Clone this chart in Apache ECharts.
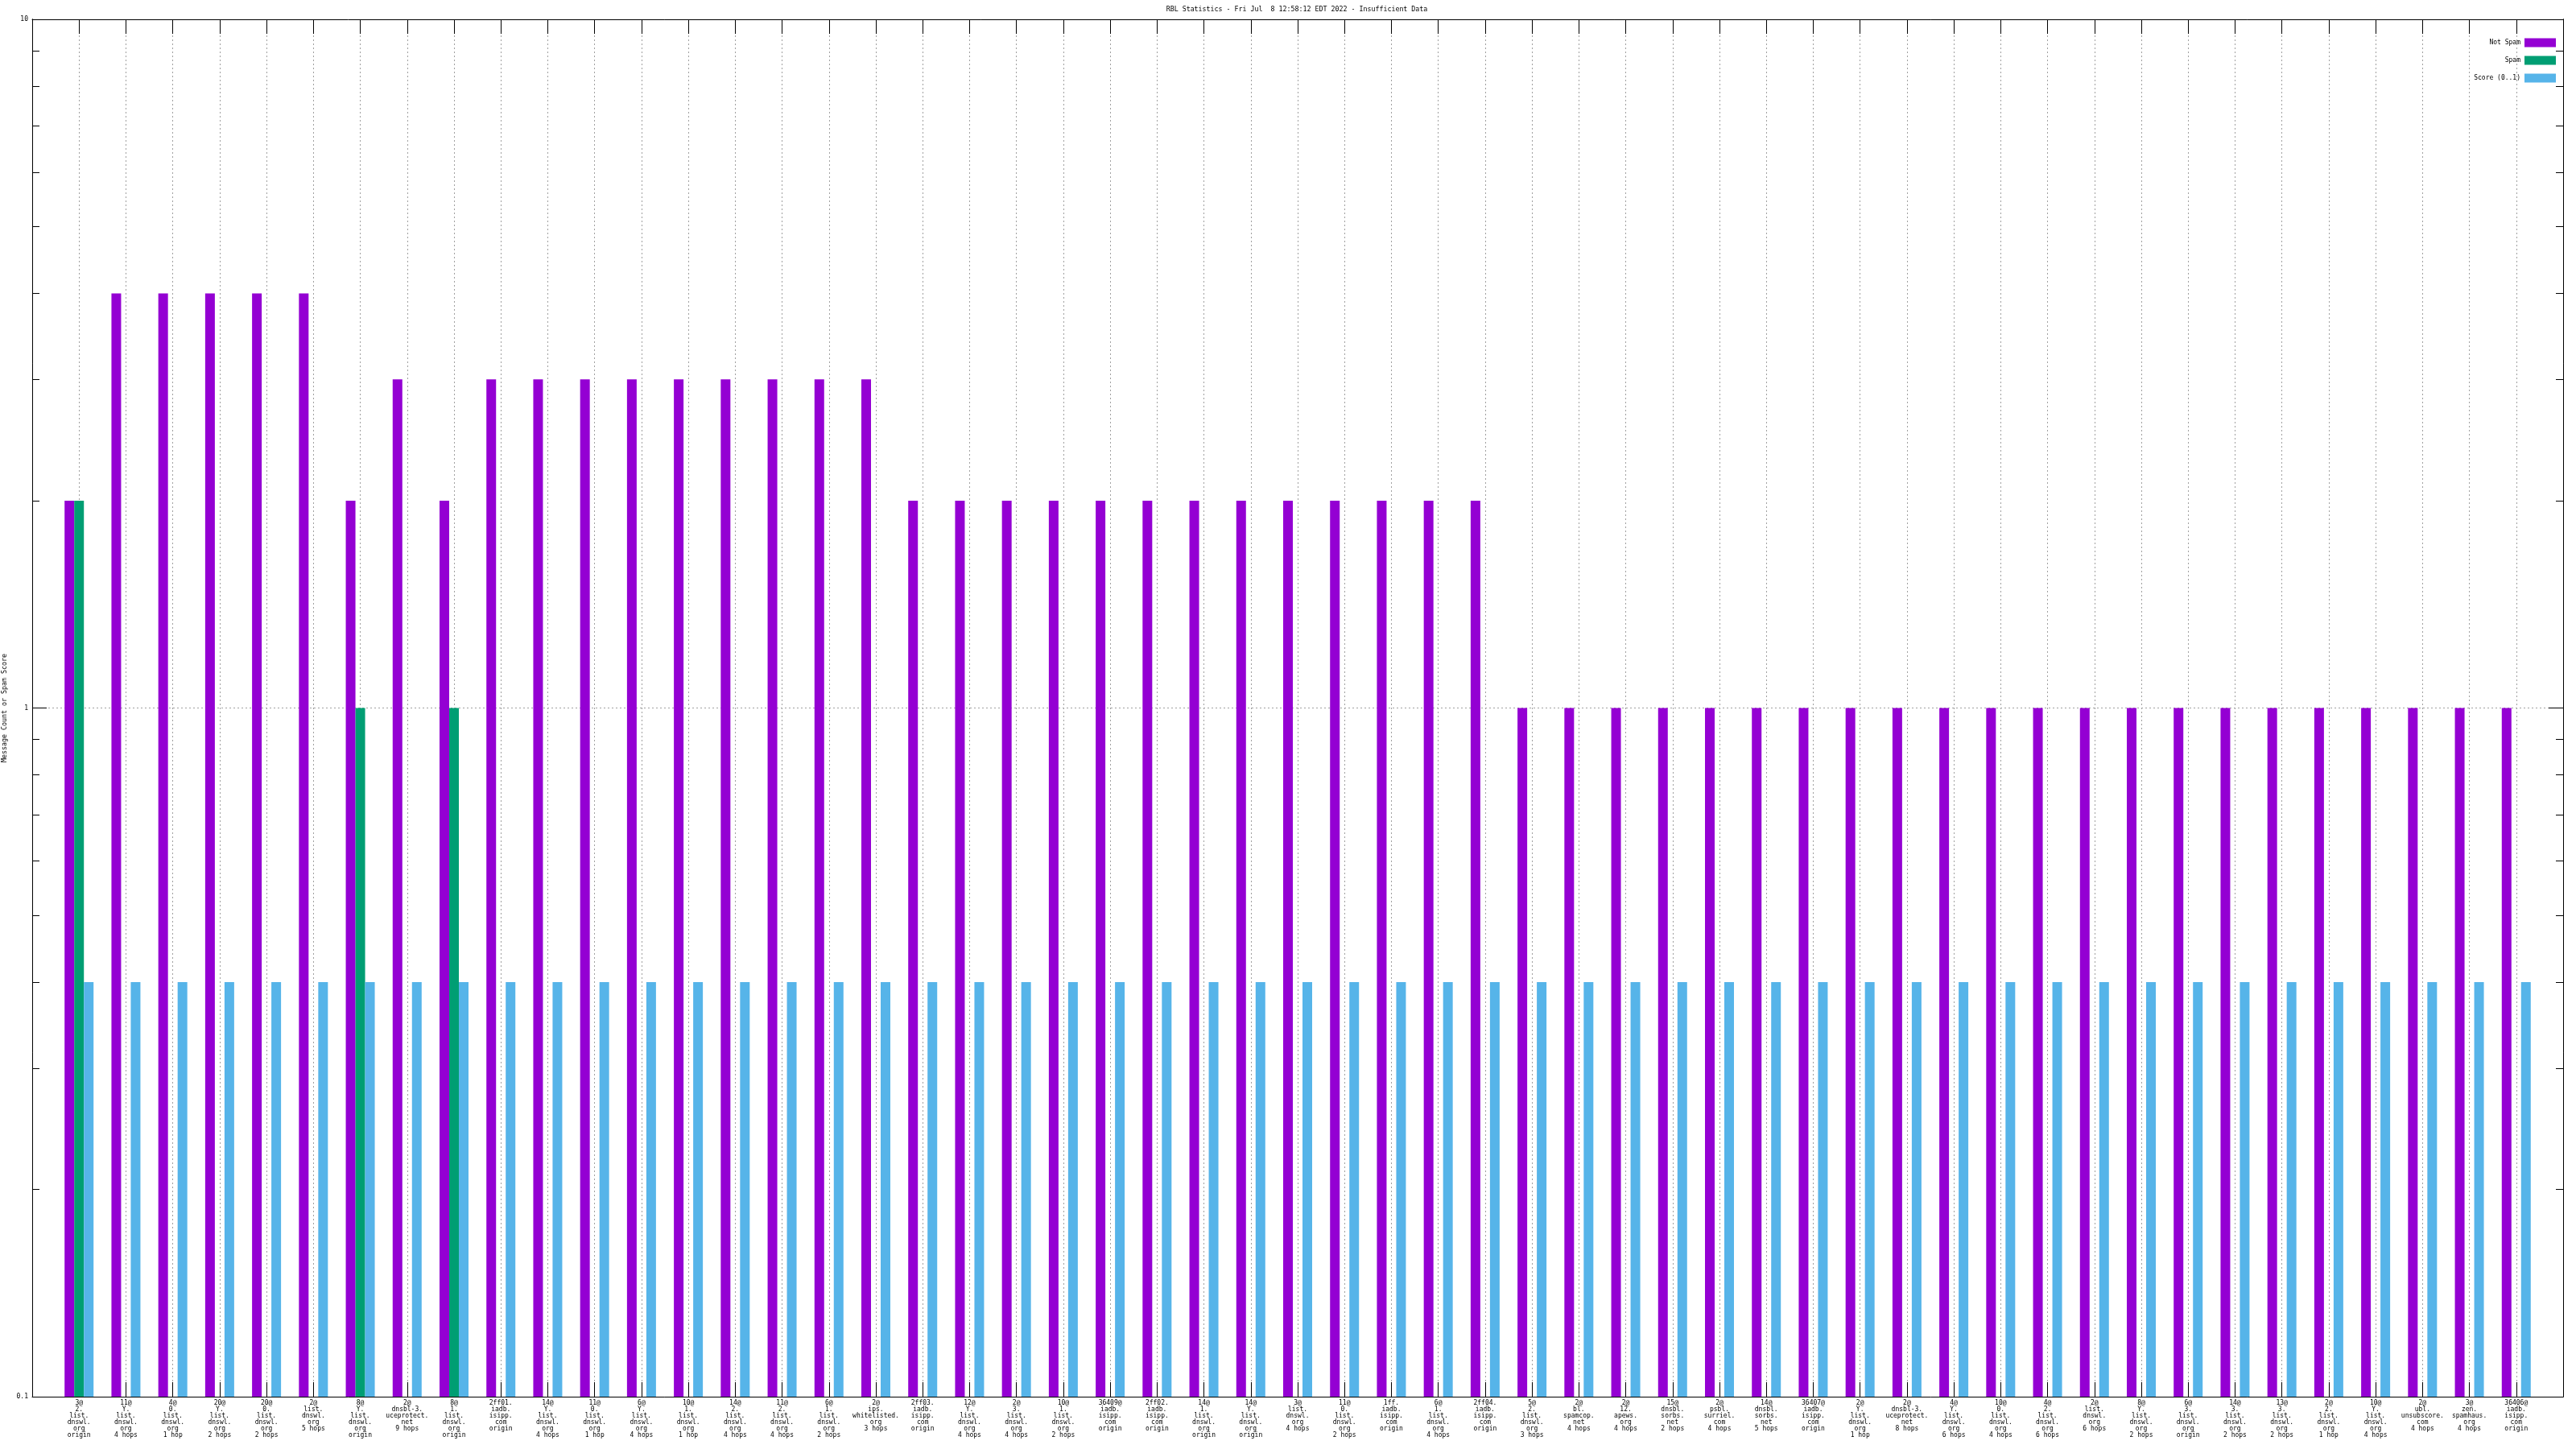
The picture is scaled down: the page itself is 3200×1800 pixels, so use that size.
<!DOCTYPE html>
<html>
<head>
<meta charset="utf-8">
<script src="https://cdn.jsdelivr.net/npm/echarts@6/dist/echarts.min.js"></script>
<style>
html,body{margin:0;padding:0;background:#fff;}
#c{width:3200px;height:1800px;}
</style>
</head>
<body>
<div id="c"></div>
<script>
const titleText = 'RBL Statistics - Fri Jul  8 12:58:12 EDT 2022 - Insufficient Data';
const yAxisTitle = 'Message Count or Spam Score';
const seriesNames = ['Not Spam', 'Spam', 'Score (0..1)'];

const categories = [
  "3@\n2.\nlist.\ndnswl.\norg\norigin",
  "11@\nY.\nlist.\ndnswl.\norg\n4 hops",
  "4@\n0.\nlist.\ndnswl.\norg\n1 hop",
  "20@\nY.\nlist.\ndnswl.\norg\n2 hops",
  "20@\n0.\nlist.\ndnswl.\norg\n2 hops",
  "2@\nlist.\ndnswl.\norg\n5 hops",
  "8@\nY.\nlist.\ndnswl.\norg\norigin",
  "2@\ndnsbl-3.\nuceprotect.\nnet\n9 hops",
  "8@\n1.\nlist.\ndnswl.\norg\norigin",
  "2ff01.\niadb.\nisipp.\ncom\norigin",
  "14@\nY.\nlist.\ndnswl.\norg\n4 hops",
  "11@\n0.\nlist.\ndnswl.\norg\n1 hop",
  "6@\nY.\nlist.\ndnswl.\norg\n4 hops",
  "10@\n1.\nlist.\ndnswl.\norg\n1 hop",
  "14@\n2.\nlist.\ndnswl.\norg\n4 hops",
  "11@\n2.\nlist.\ndnswl.\norg\n4 hops",
  "6@\n1.\nlist.\ndnswl.\norg\n2 hops",
  "2@\nips.\nwhitelisted.\norg\n3 hops",
  "2ff03.\niadb.\nisipp.\ncom\norigin",
  "12@\nY.\nlist.\ndnswl.\norg\n4 hops",
  "2@\n3.\nlist.\ndnswl.\norg\n4 hops",
  "10@\n1.\nlist.\ndnswl.\norg\n2 hops",
  "36409@\niadb.\nisipp.\ncom\norigin",
  "2ff02.\niadb.\nisipp.\ncom\norigin",
  "14@\n1.\nlist.\ndnswl.\norg\norigin",
  "14@\nY.\nlist.\ndnswl.\norg\norigin",
  "3@\nlist.\ndnswl.\norg\n4 hops",
  "11@\n0.\nlist.\ndnswl.\norg\n2 hops",
  "1ff.\niadb.\nisipp.\ncom\norigin",
  "6@\n1.\nlist.\ndnswl.\norg\n4 hops",
  "2ff04.\niadb.\nisipp.\ncom\norigin",
  "5@\n2.\nlist.\ndnswl.\norg\n3 hops",
  "2@\nbl.\nspamcop.\nnet\n4 hops",
  "2@\n12.\napews.\norg\n4 hops",
  "15@\ndnsbl.\nsorbs.\nnet\n2 hops",
  "2@\npsbl.\nsurriel.\ncom\n4 hops",
  "14@\ndnsbl.\nsorbs.\nnet\n5 hops",
  "36407@\niadb.\nisipp.\ncom\norigin",
  "2@\nY.\nlist.\ndnswl.\norg\n1 hop",
  "2@\ndnsbl-3.\nuceprotect.\nnet\n8 hops",
  "4@\nY.\nlist.\ndnswl.\norg\n6 hops",
  "10@\n0.\nlist.\ndnswl.\norg\n4 hops",
  "4@\n2.\nlist.\ndnswl.\norg\n6 hops",
  "2@\nlist.\ndnswl.\norg\n6 hops",
  "8@\nY.\nlist.\ndnswl.\norg\n2 hops",
  "6@\n3.\nlist.\ndnswl.\norg\norigin",
  "14@\n3.\nlist.\ndnswl.\norg\n2 hops",
  "13@\n3.\nlist.\ndnswl.\norg\n2 hops",
  "2@\n2.\nlist.\ndnswl.\norg\n1 hop",
  "10@\nY.\nlist.\ndnswl.\norg\n4 hops",
  "2@\nubl.\nunsubscore.\ncom\n4 hops",
  "3@\nzen.\nspamhaus.\norg\n4 hops",
  "36406@\niadb.\nisipp.\ncom\norigin"
];

const notSpam = [
  2, 4, 4, 4, 4, 4, 2, 3, 2,
  3, 3, 3, 3, 3, 3, 3, 3, 3,
  2, 2, 2, 2, 2, 2, 2, 2, 2, 2, 2, 2, 2,
  1, 1, 1, 1, 1, 1, 1, 1, 1, 1, 1, 1, 1, 1, 1, 1, 1, 1, 1, 1, 1, 1
];
const spam = [
  2, null, null, null, null, null, 1, null, 1,
  null, null, null, null, null, null, null, null, null,
  null, null, null, null, null, null, null, null, null, null, null, null, null,
  null, null, null, null, null, null, null, null, null, null, null, null, null, null, null, null, null, null, null, null, null, null
];
const score = [
  0.4, 0.4, 0.4, 0.4, 0.4, 0.4, 0.4, 0.4, 0.4,
  0.4, 0.4, 0.4, 0.4, 0.4, 0.4, 0.4, 0.4, 0.4,
  0.4, 0.4, 0.4, 0.4, 0.4, 0.4, 0.4, 0.4, 0.4, 0.4, 0.4, 0.4, 0.4,
  0.4, 0.4, 0.4, 0.4, 0.4, 0.4, 0.4, 0.4, 0.4, 0.4, 0.4, 0.4, 0.4, 0.4, 0.4, 0.4, 0.4, 0.4, 0.4, 0.4, 0.4, 0.4
];
const yMajorTicks = [0.1, 1, 10];
const yMinorTicks = [0.2, 0.3, 0.4, 0.5, 0.6, 0.7, 0.8, 0.9, 2, 3, 4, 5, 6, 7, 8, 9];

const FONT = '"DejaVu Sans Mono", "Liberation Mono", monospace';
const colors = ['#9400D3', '#009E73', '#56B4E9'];

// pad one empty slot at each end (x range runs from -1 to N)
const axisCats = [''].concat(categories, ['']);
const pad = arr => [null].concat(arr, [null]);

const chart = echarts.init(document.getElementById('c'), null, {renderer: 'canvas'});

const yBase = {
  type: 'log', logBase: 10, min: 0.1, max: 10, startValue: 0.1,
  axisLine: {show: true, lineStyle: {color: '#000', width: 1}},
  splitLine: {show: false},
  axisLabel: {show: false}
};

const legendBase = {
  orient: 'vertical', align: 'right', icon: 'rect', itemWidth: 39, itemHeight: 11,
  padding: 0, right: 25, selectedMode: false,
  textStyle: {fontFamily: FONT, fontSize: 8, color: '#000'}
};

const option = {
  backgroundColor: '#fff',
  animation: false,
  color: colors,
  title: {
    text: titleText, left: 1611, top: 8, padding: 0, textAlign: 'center',
    textStyle: {fontFamily: FONT, fontSize: 8.3, fontWeight: 'normal', color: '#000'}
  },
  legend: [
    Object.assign({}, legendBase, {data: [seriesNames[0]], top: 47.5}),
    Object.assign({}, legendBase, {data: [seriesNames[1]], top: 69.5}),
    Object.assign({}, legendBase, {data: [seriesNames[2]], top: 91.5})
  ],
  grid: {left: 40, right: 16, top: 24, bottom: 65, containLabel: false, outerBoundsMode: 'none'},
  xAxis: [
    {
      type: 'category', data: axisCats, boundaryGap: false, position: 'bottom',
      axisLine: {show: true, lineStyle: {color: '#000', width: 1}},
      axisTick: {show: true, inside: true, length: 18, interval: 0, lineStyle: {color: '#000'}},
      axisLabel: {show: true, interval: 0, margin: 4, fontFamily: FONT, fontSize: 8, lineHeight: 8, color: '#000'},
      splitLine: {show: true, interval: 0, lineStyle: {color: '#a0a0a0', type: [2, 3], width: 1}}
    },
    {
      type: 'category', data: axisCats, boundaryGap: false, position: 'top',
      axisLine: {show: true, lineStyle: {color: '#000', width: 1}},
      axisTick: {show: true, inside: true, length: 18, interval: 0, lineStyle: {color: '#000'}},
      axisLabel: {show: false},
      splitLine: {show: false}
    }
  ],
  yAxis: [
    Object.assign({}, yBase, {
      position: 'left',
      name: yAxisTitle, nameLocation: 'middle', nameRotate: 90, nameGap: 29,
      nameTextStyle: {fontFamily: FONT, fontSize: 8.3, color: '#000'},
      axisTick: {show: true, inside: true, length: 18, customValues: yMajorTicks, lineStyle: {color: '#000'}},
      axisLabel: {show: true, margin: 5, customValues: yMajorTicks, fontFamily: FONT, fontSize: 8, color: '#000'},
      splitLine: {show: true, lineStyle: {color: '#a0a0a0', type: [2, 3], width: 1}}
    }),
    Object.assign({}, yBase, {
      position: 'left',
      axisTick: {show: true, inside: true, length: 9, customValues: yMinorTicks, lineStyle: {color: '#000'}}
    }),
    Object.assign({}, yBase, {
      position: 'right',
      axisTick: {show: true, inside: true, length: 18, customValues: yMajorTicks, lineStyle: {color: '#000'}}
    }),
    Object.assign({}, yBase, {
      position: 'right',
      axisTick: {show: true, inside: true, length: 9, customValues: yMinorTicks, lineStyle: {color: '#000'}}
    })
  ],
  series: [
    {name: seriesNames[0], type: 'bar', xAxisIndex: 0, yAxisIndex: 0, data: pad(notSpam), barWidth: 12, barGap: '0%', itemStyle: {color: colors[0]}},
    {name: seriesNames[1], type: 'bar', xAxisIndex: 0, yAxisIndex: 0, data: pad(spam), barWidth: 12, barGap: '0%', itemStyle: {color: colors[1]}},
    {name: seriesNames[2], type: 'bar', xAxisIndex: 0, yAxisIndex: 0, data: pad(score), barWidth: 12, barGap: '0%', itemStyle: {color: colors[2]}}
  ]
};
chart.setOption(option);
</script>
</body>
</html>
